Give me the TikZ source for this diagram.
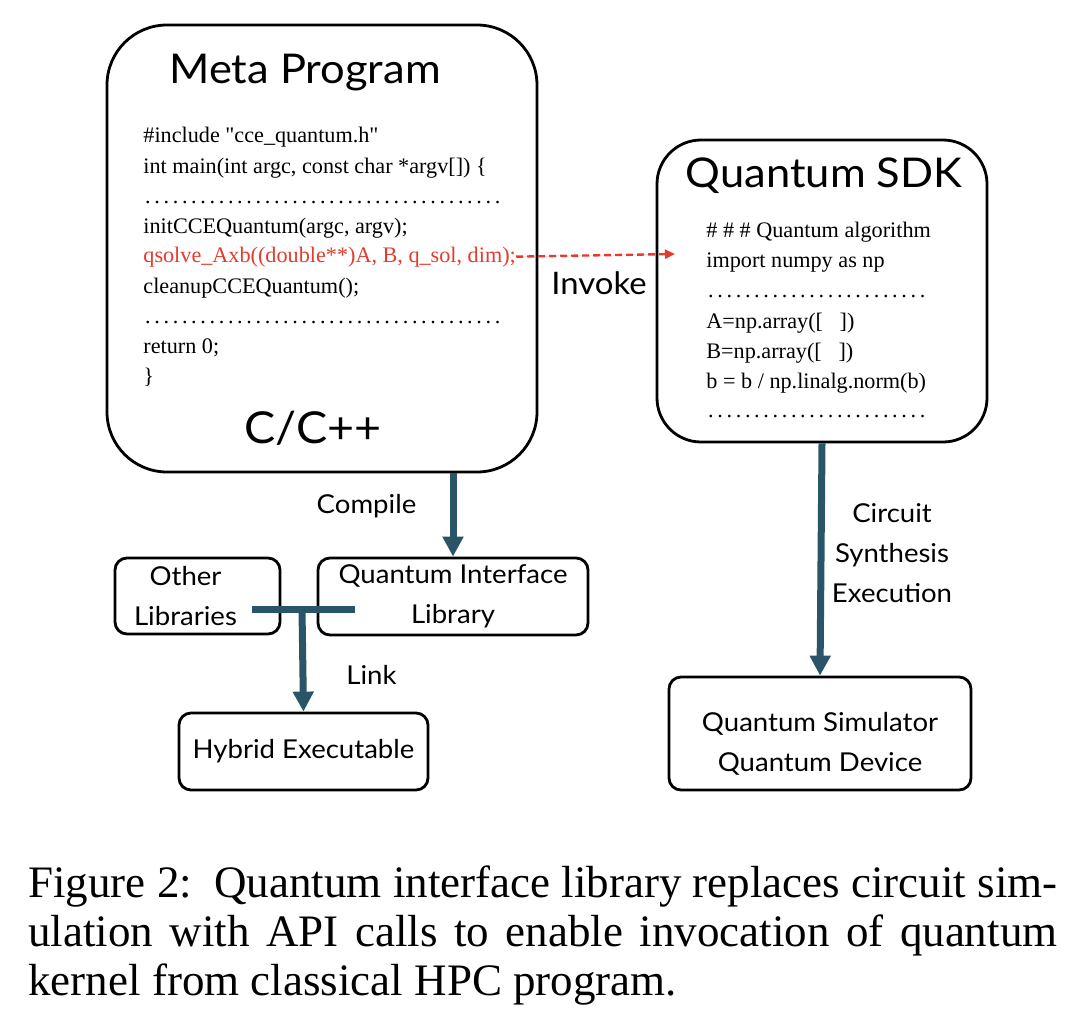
\documentclass[tikz,border=0pt]{standalone}
\usepackage{fontspec}
\setmainfont{Liberation Serif}
\setsansfont[FakeStretch=1.06]{Lato}
\usepackage{xcolor}
\usetikzlibrary{positioning,arrows.meta}
\definecolor{flowblue}{HTML}{2A5468}
\definecolor{callred}{HTML}{E53B2E}
\newcommand*\dotrow[1]{\hbox to #1{\leaders\hbox to 4.6pt{\hss.\hss}\hfill}}

\begin{document}
\begin{tikzpicture}[
    x=0.5pt, y=-0.5pt,
    >={Triangle[width=10pt,length=10pt]},
    bigbox/.style={draw, line width=1.4pt, inner sep=0pt},
    libbox/.style={draw, line width=1.4pt, rounded corners=6pt, inner sep=0pt, align=center,
      font=\sffamily\fontsize{13}{20}\selectfont},
    title/.style={font=\sffamily\fontsize{20.5}{24}\selectfont, anchor=base},
    code/.style={font=\fontsize{11.1}{15}\selectfont, anchor=base west, inner sep=0pt},
    lbl/.style={font=\sffamily\fontsize{13}{20}\selectfont, anchor=base, inner sep=0pt},
    flow/.style={->, line width=3.5pt, draw=flowblue, fill=flowblue},
    call/.style={-{Triangle[width=4.5pt,length=5pt]}, line width=1.2pt, draw=callred, fill=callred,
      dash pattern=on 3.5pt off 2pt},
  ]
  \useasboundingbox (0,0) rectangle (1090,1028);

  % the two program boxes
  \node[bigbox, rounded corners=30pt, minimum width=215pt, minimum height=223.5pt] (meta) at (322,248.5) {};
  \node[bigbox, rounded corners=22pt, minimum width=165pt, minimum height=151pt] (sdk) at (822,291) {};
  \node[title] (metatitle) at (305,83) {Meta Program};
  \node[title] (sdktitle) at (824,187) {Quantum SDK};
  \node[title, font=\sffamily\fontsize{22}{26}\selectfont] (lang) at (313,443) {C/C++};

  % code in the meta program
  \foreach \yy/\txt in {142/{\#include \textquotedbl cce\_quantum.h\textquotedbl},
      173/{int main(int argc, const char *argv[]) \{},
      203/{\dotrow{180pt}},
      233/{initCCEQuantum(argc, argv);},
      293/{cleanupCCEQuantum();},
      323/{\dotrow{180pt}},
      353/{return 0;},
      383/{\}}}
    \node[code] (mc\yy) at (143,\yy) {\txt};
  \node[code, text=callred] (qsolve) at (143,262) {qsolve\_Axb((double**)A, B, q\_sol, dim);};

  % code in the sdk
  \foreach \yy/\txt in {237/{\# \# \# Quantum algorithm},
      267/{import numpy as np},
      297/{\dotrow{113.5pt}},
      328/{A=np.array([\ \ \ ])},
      358/{B=np.array([\ \ \ ])},
      388/{b = b / np.linalg.norm(b)},
      417/{\dotrow{113.5pt}}}
    \node[code] (sc\yy) at (706,\yy) {\txt};

  % libraries and targets
  \node[libbox, minimum width=82.5pt, minimum height=38pt] (other) at (197.5,596)
    {Other\hspace*{12pt}\\Libraries\hspace*{12pt}};
  \node[libbox, minimum width=135pt, minimum height=38.5pt] (qil) at (453,596.5) {Quantum Interface\\Library};
  \node[libbox, minimum width=124.5pt, minimum height=38.5pt] (hybrid) at (303.5,751.5) {Hybrid Executable};
  \node[libbox, minimum width=151pt, minimum height=56.5pt] (sim) at (820,733.5)
    {\rule{0pt}{20pt}Quantum Simulator\\Quantum Device};

  % connectors
  \coordinate (invokeend) at (675,254);
  \draw[call] (qsolve.east) -- (invokeend);
  \node[lbl, font=\sffamily\fontsize{15.5}{18}\selectfont] (invoke) at (599,294) {Invoke};

  \draw[flow] (qil.north |- meta.south) -- (qil.north);
  \node[lbl] (compile) at (366.5,513) {Compile};

  \coordinate (barL) at (252,609);
  \coordinate (barR) at (355,609);
  \coordinate (join) at (302,609);
  \draw[line width=3.5pt, flowblue] (barL) -- (barR);
  \draw[flow] (join) -- (hybrid.north);
  \node[lbl] (link) at (371.5,684) {Link};

  \draw[flow] (sdk.south) -- (sim.north);
  \node[lbl, align=center] (synth) at (892,602) {Circuit\\Synthesis\\Execution};

  % caption
  \node[anchor=base west, inner sep=0pt, text width=514.5pt, align=justify,
    font=\fontsize{22.5}{24.5}\selectfont] (caption) at (28,897)
    {Figure 2:\ \ Quantum interface library replaces circuit sim-\linebreak
     ulation with API calls to enable invocation of quantum\linebreak
     kernel from classical HPC program.};
\end{tikzpicture}
\end{document}
